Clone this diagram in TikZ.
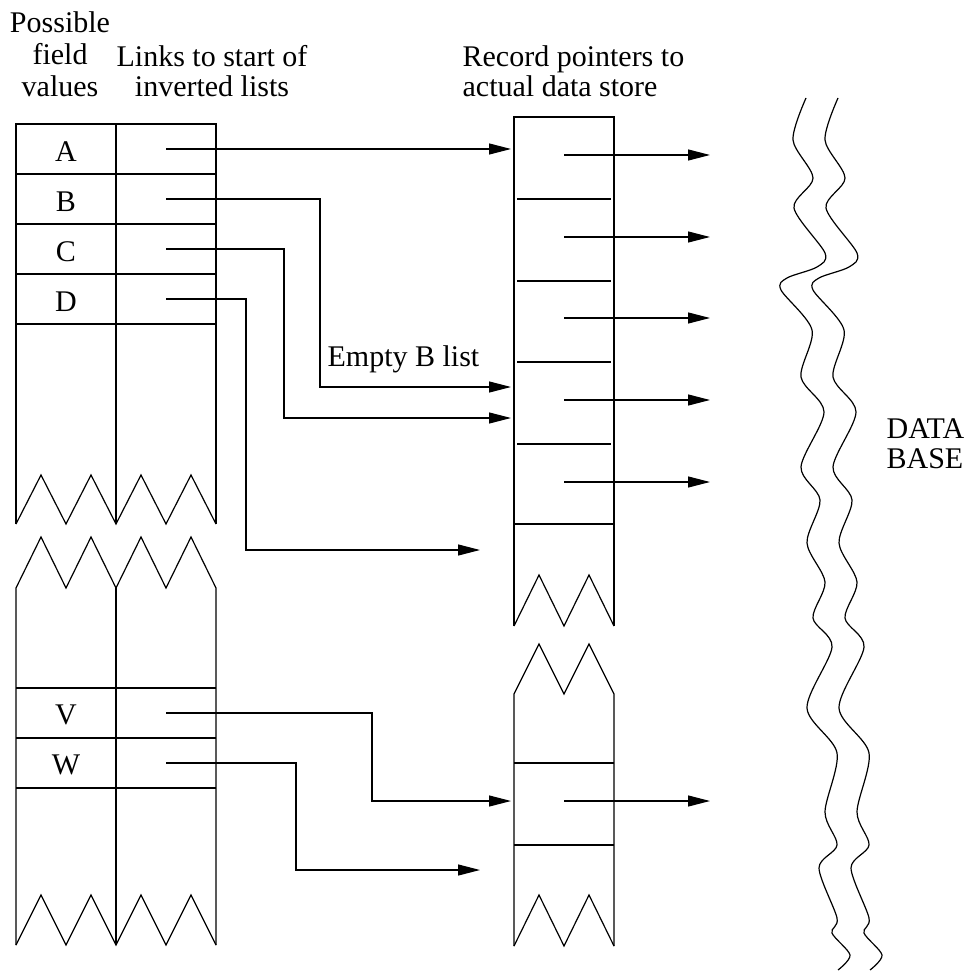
\documentclass[tikz,border=0pt]{standalone}
\usepackage{fontspec}
\setmainfont{Liberation Serif}
\usetikzlibrary{arrows.meta, positioning}

\begin{document}
\begin{tikzpicture}[
    x=0.5pt, y=-0.5pt,
    line width=0.6pt,
    txt/.style={
        font=\fontsize{15}{15}\selectfont,
        inner sep=0pt
    },
    heading/.style={
        txt,
        align=center
    },
    ptr/.style={
        -{Triangle[length=11pt, width=5.5pt]}
    },
    wave/.style={
        line width=0.6pt
    }
]

\useasboundingbox (0,0) rectangle (969,972);

% Column headings
\node[heading, font=\fontsize{15}{16}\selectfont, anchor=base] (hvalues) at (60,97) {Possible\\field\\values};
\node[heading, anchor=base] (hlinks) at (212,97) {Links to start of\\inverted lists};
\node[heading, align=left, anchor=base west] (hrecords) at (462,97) {Record pointers to\\actual data store};

% Field value table, upper part
\draw (16,524) -- (16,124) -- (216,124) -- (216,524);
\draw (116,124) -- (116,524);
\foreach \y in {174,224,274,324}
    \draw (16,\y) -- (216,\y);
\draw (16,524) \foreach \i in {1,...,4} { -- ++(25,-49) -- ++(25,49) };

\foreach \v/\y in {A/152, B/202, C/252, D/302}
    \node[txt] (val\v) at (66,\y) {\v};
\foreach \v/\y in {A/149, B/199, C/249, D/299}
    \coordinate (p\v) at (166,\y);

% Field value table, lower part
\draw (16,945) -- (16,588) \foreach \i in {1,...,4} { -- ++(25,-51) -- ++(25,51) } -- (216,945);
\draw (116,588) -- (116,945);
\foreach \y in {688,738,788}
    \draw (16,\y) -- (216,\y);
\draw (16,945) \foreach \i in {1,...,4} { -- ++(25,-50) -- ++(25,50) };

\foreach \v/\y in {V/715, W/765}
    \node[txt] (val\v) at (66,\y) {\v};
\foreach \v/\y in {V/713, W/763}
    \coordinate (p\v) at (166,\y);

% Record pointer list, upper part
\draw (514,626) -- (514,117) -- (614,117) -- (614,626);
\foreach \y in {199,281,362,444}
    \draw (517,\y) -- (611,\y);
\draw (514,524) -- (614,524);
\draw (514,626) \foreach \i in {1,2} { -- ++(25,-51) -- ++(25,51) };

% Record pointer list, lower part
\draw (514,946) -- (514,694) \foreach \i in {1,2} { -- ++(25,-50) -- ++(25,50) } -- (614,946);
\foreach \y in {763,845}
    \draw (514,\y) -- (614,\y);
\draw (514,946) \foreach \i in {1,2} { -- ++(25,-51) -- ++(25,51) };

% Pointers out to the data store
\foreach \y [count=\k] in {155,237,318,400,482,801} {
    \coordinate (r\k) at (564,\y);
    \coordinate (s\k) at (710,\y);
    \draw[ptr] (r\k) -- (s\k);
}

% Links to the start of each list
\coordinate (inA) at (511,149);
\coordinate (inB) at (511,387);
\coordinate (inC) at (511,418);
\coordinate (inD) at (480,550);
\coordinate (inV) at (511,801);
\coordinate (inW) at (480,870);

\draw[ptr] (pA) -- (inA);
\draw[ptr] (pB) -- ++(154,0) |- (inB);
\draw[ptr] (pC) -- ++(118,0) |- (inC);
\draw[ptr] (pD) -- ++(80,0) |- (inD);
\draw[ptr] (pV) -- ++(206,0) |- (inV);
\draw[ptr] (pW) -- ++(130,0) |- (inW);

\node[txt, anchor=base west] (emptyB) at (327,366) {Empty B list};

% Data base edge
\foreach \dx in {0,16}
    \draw[wave, xshift=\dx pt] plot[smooth] coordinates {
        (806,98) (793,140) (813,178) (794,208) (825,253) (817,267)
        (787,278) (781,290) (812,330) (801,377) (824,412) (801,467)
        (820,500) (807,543) (825,582) (813,618) (832,647) (807,708)
        (837,753) (825,812) (837,845) (819,868) (837,918) (832,933)
        (850,955) (838,970)};

\node[txt, align=left, anchor=base west] (database) at (886,468) {DATA\\BASE};

\end{tikzpicture}
\end{document}
